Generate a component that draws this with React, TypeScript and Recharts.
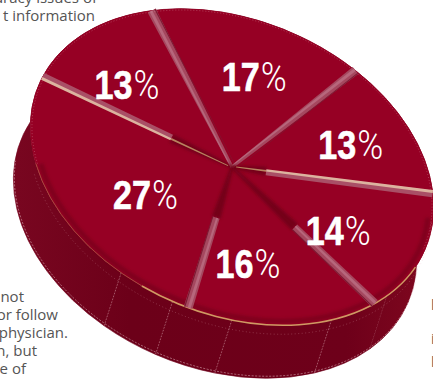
import { Pie, PieChart, Sector } from "recharts";

// slices run clockwise, beginning at the top wedge
const sliceShares = [17, 13, 14, 16, 27, 13];
// panel widths of the rim wall, in degrees, beginning lower right
const wallPanels = [20.7, 29.6, 17.1, 16.2, 276.4];

const sliceData = sliceShares.map((value) => ({ value }));
const wallData = wallPanels.map((value) => ({ value }));

const WIDTH = 433;
const HEIGHT = 379;
const CX = 232;
const CY = 167;
const MAJOR = 210;
const MINOR = 147;
const TILT = 23;
const DROP_X = -17;
const DROP_Y = 53;
const START = -230;
const WALL_START = -23.2;

const TILT_RAD = (TILT * Math.PI) / 180;
const faceMatrix = `translate(${CX} ${CY}) rotate(${TILT}) scale(${MAJOR / MINOR} 1) translate(${-CX} ${-CY})`;

// per slice: label distance from the hub, label turn in degrees, spoke look
const labelReach = [0.63, 0.66, 0.59, 0.61, 0.52, 0.66];
const labelTurn = [2.7, 1.6, 7.6, 9, -5.2, -5.6];
const spokeKind = ["pink", "pink", "tan", "pink", "pink", "tan"];
const spokeInner = [0, 0, 0.17, 0.44, 0.36, 0.32];

// theta is clockwise on screen from the circle's +x, before the tilt
function project(theta: number, reach = 1, dx = 0, dy = 0) {
  const t = (theta * Math.PI) / 180;
  const u = MAJOR * reach * Math.cos(t);
  const v = MINOR * reach * Math.sin(t);
  return {
    x: CX + u * Math.cos(TILT_RAD) - v * Math.sin(TILT_RAD) + dx,
    y: CY + u * Math.sin(TILT_RAD) + v * Math.cos(TILT_RAD) + dy,
  };
}

function arcTo(from: number, to: number, reach = 1, dx = 0, dy = 0) {
  const end = project(to, reach, dx, dy);
  const large = Math.abs(to - from) > 180 ? 1 : 0;
  const sweep = to > from ? 1 : 0;
  return `A ${MAJOR * reach} ${MINOR * reach} ${TILT} ${large} ${sweep} ${end.x} ${end.y}`;
}

function arcPath(from: number, to: number, reach = 1, dx = 0, dy = 0) {
  const start = project(from, reach, dx, dy);
  return `M ${start.x} ${start.y} ${arcTo(from, to, reach, dx, dy)}`;
}

function taper(theta: number, r0: number, r1: number, w0: number, w1: number, side = 0) {
  const a = project(theta, r0);
  const b = project(theta, r1);
  const len = Math.hypot(b.x - a.x, b.y - a.y) || 1;
  const nx = -(b.y - a.y) / len;
  const ny = (b.x - a.x) / len;
  const pts = [
    [a.x + nx * (side + w0 / 2), a.y + ny * (side + w0 / 2)],
    [b.x + nx * (side + w1 / 2), b.y + ny * (side + w1 / 2)],
    [b.x + nx * (side - w1 / 2), b.y + ny * (side - w1 / 2)],
    [a.x + nx * (side - w0 / 2), a.y + ny * (side - w0 / 2)],
  ];
  return pts.map((p) => p.join(",")).join(" ");
}

function WallPanel(props: any) {
  const from = -props.startAngle;
  const to = -props.endAngle;
  const a = project(from);
  const b = project(from, 1, DROP_X, DROP_Y);
  const endLow = project(to, 1, DROP_X, DROP_Y);
  const band =
    `${arcPath(from, to)} L ${endLow.x} ${endLow.y} ` +
    `${arcTo(to, from, 1, DROP_X, DROP_Y)} Z`;
  return (
    <g>
      <path d={band} fill="url(#wallShade)" stroke="url(#wallShade)" strokeWidth={0.6} />
      <line
        x1={a.x}
        y1={a.y}
        x2={b.x}
        y2={b.y}
        stroke="#e8b9c0"
        strokeOpacity={0.6}
        strokeWidth={0.7}
        strokeDasharray="1.5 1.5"
      />
    </g>
  );
}

function FaceSlice(props: any) {
  return (
    <g transform={faceMatrix}>
      <Sector {...props} fill="#960024" stroke="#960024" strokeWidth={0.5} />
    </g>
  );
}

function Spoke(props: any) {
  const i = props.index;
  const theta = -props.startAngle;
  const inner = spokeInner[i];
  const tan = spokeKind[i] === "tan";
  return (
    <g>
      {inner > 0 && (
        <polygon points={taper(theta, 0, inner, 3, 9)} fill="#6e0418" opacity={0.85} filter="url(#soft)" />
      )}
      {inner > 0 && tan && (
        <polygon points={taper(theta, 0.02, inner, 0.8, 1.8, -0.5)} fill="#b8825f" />
      )}
      {tan ? (
        <g>
          <polygon points={taper(theta, inner, 1, 5, 7, 1.5)} fill="#a94f66" />
          <polygon points={taper(theta, inner, 1, 2.4, 3, -1)} fill="#dcb39f" />
        </g>
      ) : (
        <g>
          <polygon points={taper(theta, inner, 1, inner > 0 ? 7 : 3, 9)} fill="#a5485f" />
          <polygon points={taper(theta, inner, 1, inner > 0 ? 2 : 1, 3, -1)} fill="#b7677c" />
          <polygon points={taper(theta, inner, 1, inner > 0 ? 1 : 0.4, 1.2, 3.6)} fill="#7c1a33" />
        </g>
      )}
      {i === 0 && (
        <g fill="none">
          <path d={arcPath(-12, 150, 0.975)} stroke="#6e0418" strokeWidth={5} opacity={0.55} filter="url(#soft)" />
          <path d={arcPath(100, 150)} stroke="#b9794f" strokeWidth={1} opacity={0.55} />
          <path d={arcPath(8, 100)} stroke="#cf9a63" strokeWidth={1.5} />
          <path d={arcPath(150, 360, 0.992)} stroke="#f0c8cf" strokeWidth={0.5} strokeDasharray="1 2" opacity={0.6} />
          <path d={arcPath(-14, 150, 1, -2, 9)} stroke="#e8b9c0" strokeWidth={0.5} strokeDasharray="1 2.5" opacity={0.55} />
          <path d={arcPath(-14, 170, 1, DROP_X + 1, DROP_Y - 2)} stroke="#f0d0d6" strokeWidth={0.7} strokeDasharray="2 1.5" opacity={0.7} />
        </g>
      )}
    </g>
  );
}

function ShareLabel(props: any) {
  const i = props.index;
  const p = project(-props.midAngle + labelTurn[i], labelReach[i]);
  return (
    <g fill="#ffffff">
      <text
        x={p.x - 32}
        y={p.y + 15}
        textLength={38}
        lengthAdjust="spacingAndGlyphs"
        fontFamily="'Liberation Sans'"
        fontWeight={700}
        fontSize={40}
        stroke="#ffffff"
        strokeWidth={0.6}
      >
        {sliceShares[i]}
      </text>
      <text
        x={p.x + 7}
        y={p.y + 15}
        textLength={26}
        lengthAdjust="spacingAndGlyphs"
        fontFamily="Roboto, 'Open Sans'"
        fontWeight={300}
        fontSize={40}
      >
        %
      </text>
    </g>
  );
}

const bodyText = { fontFamily: "'Open Sans', Roboto", fontSize: 15, fill: "#555555" };

export default function App() {
  return (
    <div style={{ position: "absolute", left: 0, top: 0, width: WIDTH, height: HEIGHT, overflow: "hidden" }}>
      <PieChart width={WIDTH} height={HEIGHT} margin={{ top: 0, right: 0, bottom: 0, left: 0 }}>
        <defs>
          <linearGradient id="wallShade" gradientUnits="userSpaceOnUse" x1={0} y1={0} x2={433} y2={0}>
            <stop offset="0" stopColor="#7a0721" />
            <stop offset="0.3" stopColor="#6c0019" />
            <stop offset="0.8" stopColor="#6e001a" />
            <stop offset="1" stopColor="#80081f" />
          </linearGradient>
          <filter id="soft" x="-50%" y="-50%" width="200%" height="200%">
            <feGaussianBlur stdDeviation="1.5" />
          </filter>
        </defs>
        <Pie
          data={wallData}
          dataKey="value"
          cx={CX}
          cy={CY}
          outerRadius={MINOR}
          startAngle={WALL_START}
          endAngle={WALL_START - 360}
          stroke="none"
          shape={WallPanel}
          isAnimationActive={false}
        />
        <Pie
          data={sliceData}
          dataKey="value"
          cx={CX}
          cy={CY}
          outerRadius={MINOR}
          startAngle={START}
          endAngle={START - 360}
          stroke="none"
          shape={FaceSlice}
          isAnimationActive={false}
        />
        <Pie
          data={sliceData}
          dataKey="value"
          cx={CX}
          cy={CY}
          outerRadius={MINOR}
          startAngle={START}
          endAngle={START - 360}
          stroke="none"
          shape={Spoke}
          label={ShareLabel}
          labelLine={false}
          isAnimationActive={false}
        />
        <text {...bodyText} x={97} y={3} textAnchor="end">accuracy issues of</text>
        <text {...bodyText} x={95} y={21} textAnchor="end">t information</text>
        <text {...bodyText} x={24} y={302} textAnchor="end">not</text>
        <text {...bodyText} x={58} y={320} textAnchor="end">or follow</text>
        <text {...bodyText} x={68} y={338} textAnchor="end">physician.</text>
        <text {...bodyText} x={37} y={356} textAnchor="end">n, but</text>
        <text {...bodyText} x={26} y={374} textAnchor="end">e of</text>
        <text {...bodyText} x={344} y={-7}>(</text>
        <text {...bodyText} x={389} y={-7}>)</text>
        <text {...bodyText} x={431} y={310}>l</text>
        <text {...bodyText} x={431} y={344}>i</text>
        <text {...bodyText} x={431} y={367}>l</text>
      </PieChart>
    </div>
  );
}
